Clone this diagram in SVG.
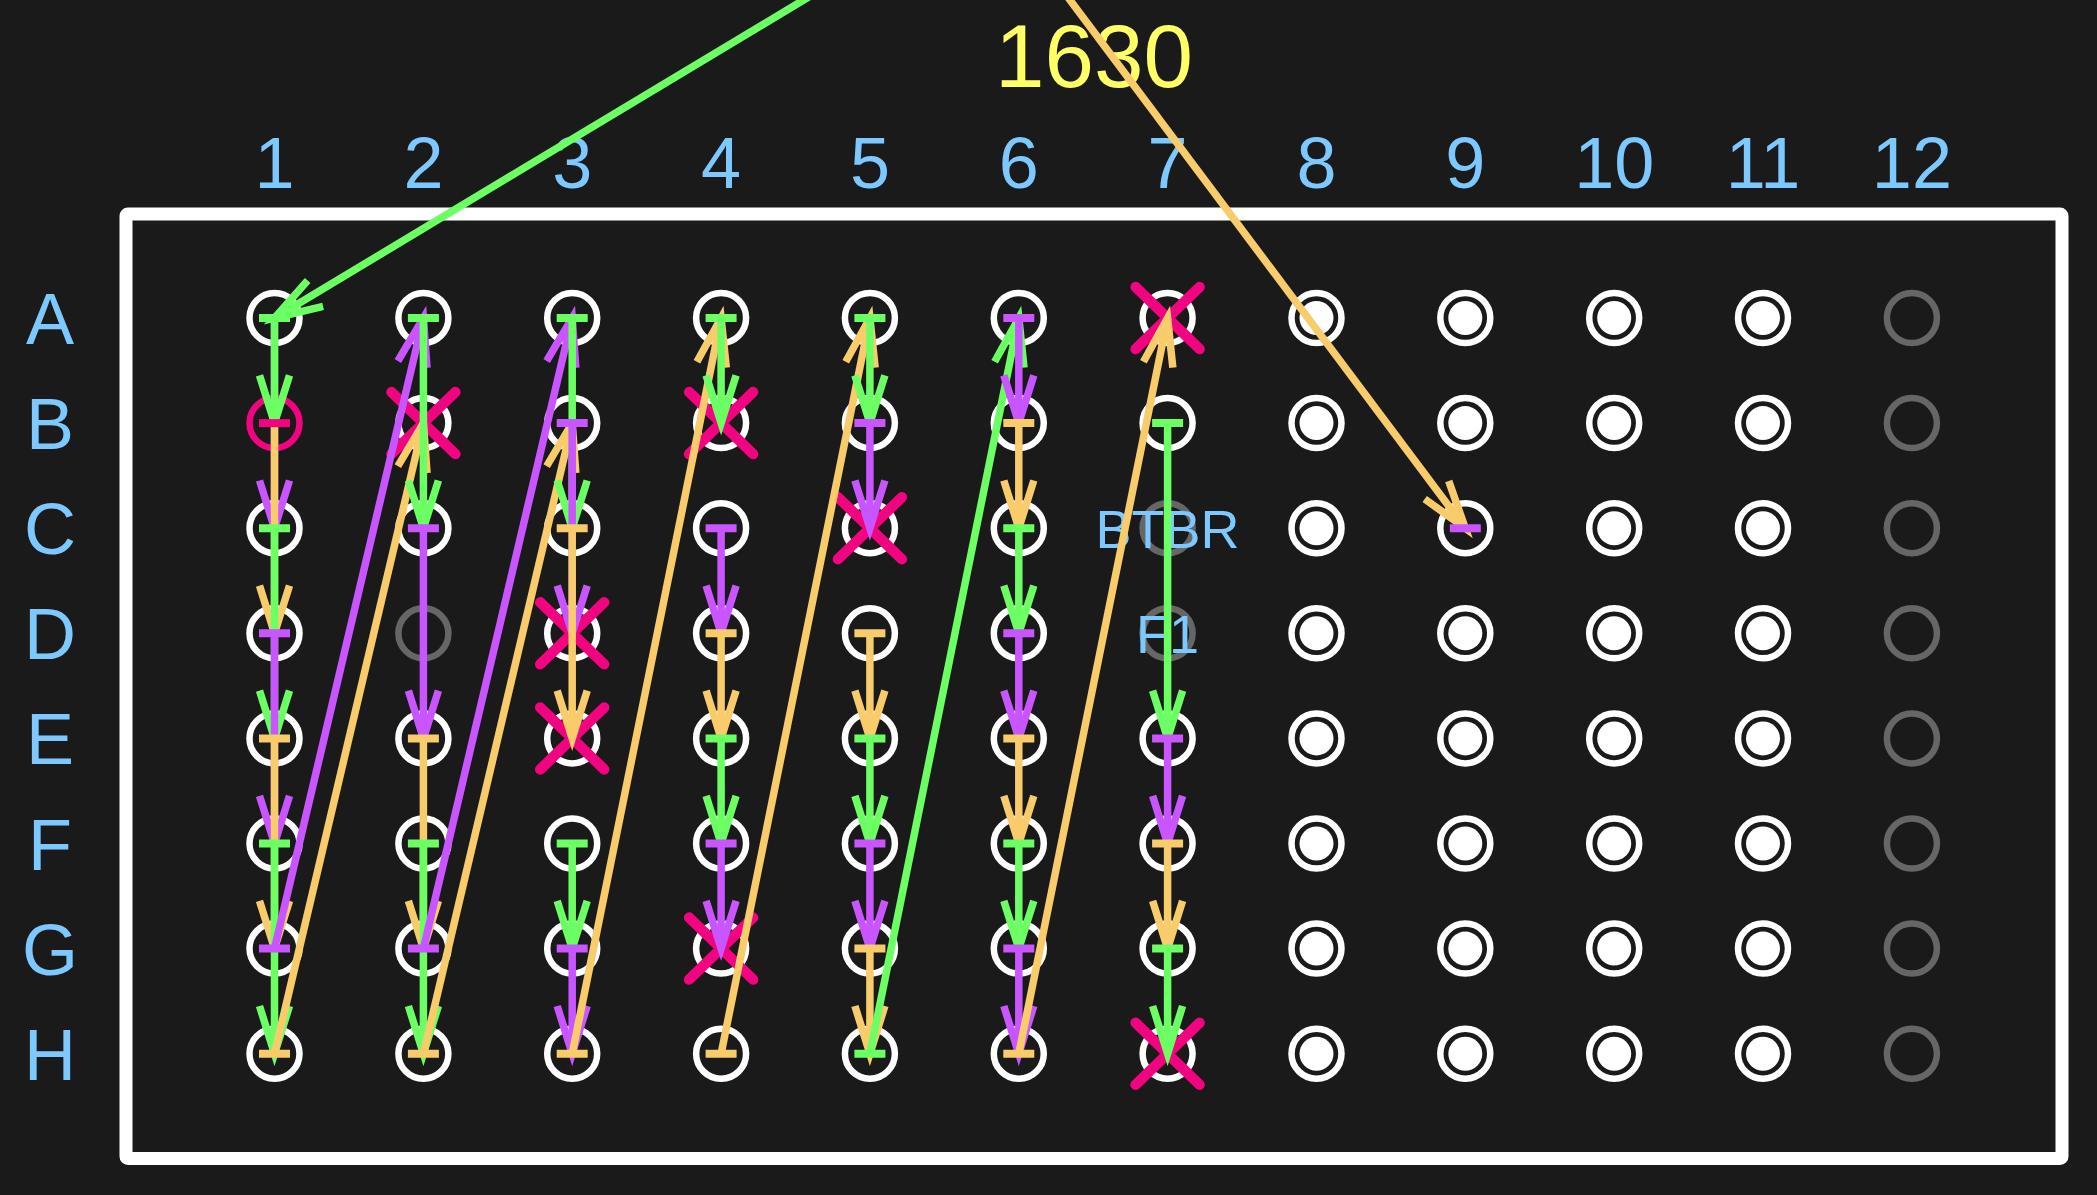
<svg xmlns="http://www.w3.org/2000/svg" xmlns:xlink="http://www.w3.org/1999/xlink" width="2097" height="1195" viewBox="0 0 2097 1195">
<style>
.lbl{font-family:"Liberation Sans",Arial,Helvetica,sans-serif;fill:#7dc8ff;text-anchor:middle;font-size:72px}
.sm{font-size:54px}
.title{font-family:"Liberation Sans",Arial,Helvetica,sans-serif;font-size:89px;fill:#ffff66;text-anchor:middle}
.plate{fill:none;stroke:#ffffff;stroke-width:13}
.w{fill:none;stroke:#ffffff;stroke-width:6.5}
.wg{fill:none;stroke:#666666;stroke-width:6.5}
.wp{fill:none;stroke:#f2037f;stroke-width:6.5}
.dot{fill:#ffffff}
.x{fill:none;stroke:#f2037f;stroke-width:10.5;stroke-linecap:round}
.c{fill:none;stroke-width:7.5}
.t{fill:none;stroke-width:8}
.g{stroke:#6bff63}
.p{stroke:#c855ff}
.o{stroke:#f8cb6b}
.k{stroke:#f2037f}
.g.c{marker-end:url(#ag)}
.p.c{marker-end:url(#ap)}
.o.c{marker-end:url(#ao)}
</style>
<defs>
<marker id="ag" markerUnits="userSpaceOnUse" orient="auto" viewBox="-60 -30 70 60" markerWidth="70" markerHeight="60" refX="0" refY="0" overflow="visible"><path d="M-47.7,-15L0,0L-47.7,15" fill="none" stroke="#6bff63" stroke-width="7.5"/></marker>
<marker id="ap" markerUnits="userSpaceOnUse" orient="auto" viewBox="-60 -30 70 60" markerWidth="70" markerHeight="60" refX="0" refY="0" overflow="visible"><path d="M-47.7,-15L0,0L-47.7,15" fill="none" stroke="#c855ff" stroke-width="7.5"/></marker>
<marker id="ao" markerUnits="userSpaceOnUse" orient="auto" viewBox="-60 -30 70 60" markerWidth="70" markerHeight="60" refX="0" refY="0" overflow="visible"><path d="M-47.7,-15L0,0L-47.7,15" fill="none" stroke="#f8cb6b" stroke-width="7.5"/></marker>
<path id="xm" class="x" d="M-32,-31L32,31M32,-31L-32,31"/>
</defs>
<rect x="0" y="0" width="2097" height="1195" fill="#1a1a1a"/>

<g id="title"><text class="title" x="1094" y="87">1630</text></g>

<g id="column-labels" class="lbl">
<text x="274.5" y="187.5">1</text><text x="423.4" y="187.5">2</text><text x="572.2" y="187.5">3</text><text x="721.1" y="187.5">4</text><text x="869.9" y="187.5">5</text><text x="1018.8" y="187.5">6</text><text x="1167.6" y="187.5">7</text><text x="1316.5" y="187.5">8</text><text x="1465.3" y="187.5">9</text><text x="1614.2" y="187.5">10</text><text x="1763" y="187.5">11</text><text x="1911.9" y="187.5">12</text>
</g>
<g id="row-labels" class="lbl">
<text x="50" y="344">A</text><text x="50" y="449.1">B</text><text x="50" y="554.2">C</text><text x="50" y="659.3">D</text><text x="50" y="764.4">E</text><text x="50" y="869.5">F</text><text x="50" y="974.6">G</text><text x="50" y="1079.7">H</text>
</g>

<g id="plate"><rect class="plate" x="126" y="214" width="1936" height="944.5" rx="2"/></g>

<g id="wells">
<g id="A1"><circle class="w" cx="274.5" cy="318" r="25"/></g>
<g id="B1"><circle class="wp" cx="274.5" cy="423.1" r="25"/></g>
<g id="C1"><circle class="w" cx="274.5" cy="528.2" r="25"/></g>
<g id="D1"><circle class="w" cx="274.5" cy="633.3" r="25"/></g>
<g id="E1"><circle class="w" cx="274.5" cy="738.4" r="25"/></g>
<g id="F1"><circle class="w" cx="274.5" cy="843.5" r="25"/></g>
<g id="G1"><circle class="w" cx="274.5" cy="948.6" r="25"/></g>
<g id="H1"><circle class="w" cx="274.5" cy="1053.7" r="25"/></g>

<g id="A2"><circle class="w" cx="423.4" cy="318" r="25"/></g>
<g id="B2"><circle class="w" cx="423.4" cy="423.1" r="25"/><use xlink:href="#xm" x="423.4" y="423.1"/></g>
<g id="C2"><circle class="w" cx="423.4" cy="528.2" r="25"/></g>
<g id="D2"><circle class="wg" cx="423.4" cy="633.3" r="25"/></g>
<g id="E2"><circle class="w" cx="423.4" cy="738.4" r="25"/></g>
<g id="F2"><circle class="w" cx="423.4" cy="843.5" r="25"/></g>
<g id="G2"><circle class="w" cx="423.4" cy="948.6" r="25"/></g>
<g id="H2"><circle class="w" cx="423.4" cy="1053.7" r="25"/></g>

<g id="A3"><circle class="w" cx="572.2" cy="318" r="25"/></g>
<g id="B3"><circle class="w" cx="572.2" cy="423.1" r="25"/></g>
<g id="C3"><circle class="w" cx="572.2" cy="528.2" r="25"/></g>
<g id="D3"><circle class="w" cx="572.2" cy="633.3" r="25"/><use xlink:href="#xm" x="572.2" y="633.3"/></g>
<g id="E3"><circle class="w" cx="572.2" cy="738.4" r="25"/><use xlink:href="#xm" x="572.2" y="738.4"/></g>
<g id="F3"><circle class="w" cx="572.2" cy="843.5" r="25"/></g>
<g id="G3"><circle class="w" cx="572.2" cy="948.6" r="25"/></g>
<g id="H3"><circle class="w" cx="572.2" cy="1053.7" r="25"/></g>

<g id="A4"><circle class="w" cx="721.1" cy="318" r="25"/></g>
<g id="B4"><circle class="w" cx="721.1" cy="423.1" r="25"/><use xlink:href="#xm" x="721.1" y="423.1"/></g>
<g id="C4"><circle class="w" cx="721.1" cy="528.2" r="25"/></g>
<g id="D4"><circle class="w" cx="721.1" cy="633.3" r="25"/></g>
<g id="E4"><circle class="w" cx="721.1" cy="738.4" r="25"/></g>
<g id="F4"><circle class="w" cx="721.1" cy="843.5" r="25"/></g>
<g id="G4"><circle class="w" cx="721.1" cy="948.6" r="25"/><use xlink:href="#xm" x="721.1" y="948.6"/></g>
<g id="H4"><circle class="w" cx="721.1" cy="1053.7" r="25"/></g>

<g id="A5"><circle class="w" cx="869.9" cy="318" r="25"/></g>
<g id="B5"><circle class="w" cx="869.9" cy="423.1" r="25"/></g>
<g id="C5"><circle class="w" cx="869.9" cy="528.2" r="25"/><use xlink:href="#xm" x="869.9" y="528.2"/></g>
<g id="D5"><circle class="w" cx="869.9" cy="633.3" r="25"/></g>
<g id="E5"><circle class="w" cx="869.9" cy="738.4" r="25"/></g>
<g id="F5"><circle class="w" cx="869.9" cy="843.5" r="25"/></g>
<g id="G5"><circle class="w" cx="869.9" cy="948.6" r="25"/></g>
<g id="H5"><circle class="w" cx="869.9" cy="1053.7" r="25"/></g>

<g id="A6"><circle class="w" cx="1018.8" cy="318" r="25"/></g>
<g id="B6"><circle class="w" cx="1018.8" cy="423.1" r="25"/></g>
<g id="C6"><circle class="w" cx="1018.8" cy="528.2" r="25"/></g>
<g id="D6"><circle class="w" cx="1018.8" cy="633.3" r="25"/></g>
<g id="E6"><circle class="w" cx="1018.8" cy="738.4" r="25"/></g>
<g id="F6"><circle class="w" cx="1018.8" cy="843.5" r="25"/></g>
<g id="G6"><circle class="w" cx="1018.8" cy="948.6" r="25"/></g>
<g id="H6"><circle class="w" cx="1018.8" cy="1053.7" r="25"/></g>

<g id="A7"><circle class="w" cx="1167.6" cy="318" r="25"/><use xlink:href="#xm" x="1167.6" y="318"/></g>
<g id="B7"><circle class="w" cx="1167.6" cy="423.1" r="25"/></g>
<g id="C7"><circle class="wg" cx="1167.6" cy="528.2" r="25"/><text class="lbl sm" x="1167.6" y="547.5">BTBR</text></g>
<g id="D7"><circle class="wg" cx="1167.6" cy="633.3" r="25"/><text class="lbl sm" x="1167.6" y="652.6">F1</text></g>
<g id="E7"><circle class="w" cx="1167.6" cy="738.4" r="25"/></g>
<g id="F7"><circle class="w" cx="1167.6" cy="843.5" r="25"/></g>
<g id="G7"><circle class="w" cx="1167.6" cy="948.6" r="25"/></g>
<g id="H7"><circle class="w" cx="1167.6" cy="1053.7" r="25"/><use xlink:href="#xm" x="1167.6" y="1053.7"/></g>

<g id="A8"><circle class="w" cx="1316.5" cy="318" r="25"/><circle class="dot" cx="1316.5" cy="318" r="17"/></g>
<g id="B8"><circle class="w" cx="1316.5" cy="423.1" r="25"/><circle class="dot" cx="1316.5" cy="423.1" r="17"/></g>
<g id="C8"><circle class="w" cx="1316.5" cy="528.2" r="25"/><circle class="dot" cx="1316.5" cy="528.2" r="17"/></g>
<g id="D8"><circle class="w" cx="1316.5" cy="633.3" r="25"/><circle class="dot" cx="1316.5" cy="633.3" r="17"/></g>
<g id="E8"><circle class="w" cx="1316.5" cy="738.4" r="25"/><circle class="dot" cx="1316.5" cy="738.4" r="17"/></g>
<g id="F8"><circle class="w" cx="1316.5" cy="843.5" r="25"/><circle class="dot" cx="1316.5" cy="843.5" r="17"/></g>
<g id="G8"><circle class="w" cx="1316.5" cy="948.6" r="25"/><circle class="dot" cx="1316.5" cy="948.6" r="17"/></g>
<g id="H8"><circle class="w" cx="1316.5" cy="1053.7" r="25"/><circle class="dot" cx="1316.5" cy="1053.7" r="17"/></g>

<g id="A9"><circle class="w" cx="1465.3" cy="318" r="25"/><circle class="dot" cx="1465.3" cy="318" r="17"/></g>
<g id="B9"><circle class="w" cx="1465.3" cy="423.1" r="25"/><circle class="dot" cx="1465.3" cy="423.1" r="17"/></g>
<g id="C9"><circle class="w" cx="1465.3" cy="528.2" r="25"/></g>
<g id="D9"><circle class="w" cx="1465.3" cy="633.3" r="25"/><circle class="dot" cx="1465.3" cy="633.3" r="17"/></g>
<g id="E9"><circle class="w" cx="1465.3" cy="738.4" r="25"/><circle class="dot" cx="1465.3" cy="738.4" r="17"/></g>
<g id="F9"><circle class="w" cx="1465.3" cy="843.5" r="25"/><circle class="dot" cx="1465.3" cy="843.5" r="17"/></g>
<g id="G9"><circle class="w" cx="1465.3" cy="948.6" r="25"/><circle class="dot" cx="1465.3" cy="948.6" r="17"/></g>
<g id="H9"><circle class="w" cx="1465.3" cy="1053.7" r="25"/><circle class="dot" cx="1465.3" cy="1053.7" r="17"/></g>

<g id="A10"><circle class="w" cx="1614.2" cy="318" r="25"/><circle class="dot" cx="1614.2" cy="318" r="17"/></g>
<g id="B10"><circle class="w" cx="1614.2" cy="423.1" r="25"/><circle class="dot" cx="1614.2" cy="423.1" r="17"/></g>
<g id="C10"><circle class="w" cx="1614.2" cy="528.2" r="25"/><circle class="dot" cx="1614.2" cy="528.2" r="17"/></g>
<g id="D10"><circle class="w" cx="1614.2" cy="633.3" r="25"/><circle class="dot" cx="1614.2" cy="633.3" r="17"/></g>
<g id="E10"><circle class="w" cx="1614.2" cy="738.4" r="25"/><circle class="dot" cx="1614.2" cy="738.4" r="17"/></g>
<g id="F10"><circle class="w" cx="1614.2" cy="843.5" r="25"/><circle class="dot" cx="1614.2" cy="843.5" r="17"/></g>
<g id="G10"><circle class="w" cx="1614.2" cy="948.6" r="25"/><circle class="dot" cx="1614.2" cy="948.6" r="17"/></g>
<g id="H10"><circle class="w" cx="1614.2" cy="1053.7" r="25"/><circle class="dot" cx="1614.2" cy="1053.7" r="17"/></g>

<g id="A11"><circle class="w" cx="1763" cy="318" r="25"/><circle class="dot" cx="1763" cy="318" r="17"/></g>
<g id="B11"><circle class="w" cx="1763" cy="423.1" r="25"/><circle class="dot" cx="1763" cy="423.1" r="17"/></g>
<g id="C11"><circle class="w" cx="1763" cy="528.2" r="25"/><circle class="dot" cx="1763" cy="528.2" r="17"/></g>
<g id="D11"><circle class="w" cx="1763" cy="633.3" r="25"/><circle class="dot" cx="1763" cy="633.3" r="17"/></g>
<g id="E11"><circle class="w" cx="1763" cy="738.4" r="25"/><circle class="dot" cx="1763" cy="738.4" r="17"/></g>
<g id="F11"><circle class="w" cx="1763" cy="843.5" r="25"/><circle class="dot" cx="1763" cy="843.5" r="17"/></g>
<g id="G11"><circle class="w" cx="1763" cy="948.6" r="25"/><circle class="dot" cx="1763" cy="948.6" r="17"/></g>
<g id="H11"><circle class="w" cx="1763" cy="1053.7" r="25"/><circle class="dot" cx="1763" cy="1053.7" r="17"/></g>

<g id="A12"><circle class="wg" cx="1911.9" cy="318" r="25"/></g>
<g id="B12"><circle class="wg" cx="1911.9" cy="423.1" r="25"/></g>
<g id="C12"><circle class="wg" cx="1911.9" cy="528.2" r="25"/></g>
<g id="D12"><circle class="wg" cx="1911.9" cy="633.3" r="25"/></g>
<g id="E12"><circle class="wg" cx="1911.9" cy="738.4" r="25"/></g>
<g id="F12"><circle class="wg" cx="1911.9" cy="843.5" r="25"/></g>
<g id="G12"><circle class="wg" cx="1911.9" cy="948.6" r="25"/></g>
<g id="H12"><circle class="wg" cx="1911.9" cy="1053.7" r="25"/></g>
</g>

<g id="connectors">
<line class="c p" x1="274.5" y1="318" x2="274.5" y2="528.2"/>
<line class="c g" x1="837" y1="-20" x2="274.5" y2="318"/>
<line class="c g" x1="274.5" y1="318" x2="274.5" y2="423.1"/>
<line class="c o" x1="274.5" y1="423.1" x2="274.5" y2="633.3"/>
<line class="c g" x1="274.5" y1="528.2" x2="274.5" y2="738.4"/>
<line class="c p" x1="274.5" y1="633.3" x2="274.5" y2="843.5"/>
<line class="c o" x1="274.5" y1="738.4" x2="274.5" y2="948.6"/>
<line class="c g" x1="274.5" y1="843.5" x2="274.5" y2="1053.7"/>
<line class="c p" x1="274.5" y1="948.6" x2="423.4" y2="318"/>
<line class="c o" x1="274.5" y1="1053.7" x2="423.4" y2="423.1"/>
<line class="c g" x1="423.4" y1="318" x2="423.4" y2="528.2"/>
<line class="c p" x1="423.4" y1="528.2" x2="423.4" y2="738.4"/>
<line class="c o" x1="423.4" y1="738.4" x2="423.4" y2="948.6"/>
<line class="c g" x1="423.4" y1="843.5" x2="423.4" y2="1053.7"/>
<line class="c p" x1="423.4" y1="948.6" x2="572.2" y2="318"/>
<line class="c o" x1="423.4" y1="1053.7" x2="572.2" y2="423.1"/>
<line class="c g" x1="572.2" y1="318" x2="572.2" y2="528.2"/>
<line class="c p" x1="572.2" y1="423.1" x2="572.2" y2="633.3"/>
<line class="c o" x1="572.2" y1="528.2" x2="572.2" y2="738.4"/>
<line class="c g" x1="572.2" y1="843.5" x2="572.2" y2="948.6"/>
<line class="c p" x1="572.2" y1="948.6" x2="572.2" y2="1053.7"/>
<line class="c o" x1="572.2" y1="1053.7" x2="721.1" y2="318"/>
<line class="c g" x1="721.1" y1="318" x2="721.1" y2="423.1"/>
<line class="c p" x1="721.1" y1="528.2" x2="721.1" y2="633.3"/>
<line class="c o" x1="721.1" y1="633.3" x2="721.1" y2="738.4"/>
<line class="c g" x1="721.1" y1="738.4" x2="721.1" y2="843.5"/>
<line class="c p" x1="721.1" y1="843.5" x2="721.1" y2="948.6"/>
<line class="c o" x1="721.1" y1="1053.7" x2="869.9" y2="318"/>
<line class="c g" x1="869.9" y1="318" x2="869.9" y2="423.1"/>
<line class="c p" x1="869.9" y1="423.1" x2="869.9" y2="528.2"/>
<line class="c o" x1="869.9" y1="633.3" x2="869.9" y2="738.4"/>
<line class="c g" x1="869.9" y1="738.4" x2="869.9" y2="843.5"/>
<line class="c p" x1="869.9" y1="843.5" x2="869.9" y2="948.6"/>
<line class="c o" x1="869.9" y1="948.6" x2="869.9" y2="1053.7"/>
<line class="c g" x1="869.9" y1="1053.7" x2="1018.8" y2="318"/>
<line class="c p" x1="1018.8" y1="318" x2="1018.8" y2="423.1"/>
<line class="c o" x1="1018.8" y1="423.1" x2="1018.8" y2="528.2"/>
<line class="c g" x1="1018.8" y1="528.2" x2="1018.8" y2="633.3"/>
<line class="c p" x1="1018.8" y1="633.3" x2="1018.8" y2="738.4"/>
<line class="c o" x1="1018.8" y1="738.4" x2="1018.8" y2="843.5"/>
<line class="c g" x1="1018.8" y1="843.5" x2="1018.8" y2="948.6"/>
<line class="c p" x1="1018.8" y1="948.6" x2="1018.8" y2="1053.7"/>
<line class="c o" x1="1018.8" y1="1053.7" x2="1167.6" y2="318"/>
<line class="c g" x1="1167.6" y1="423.1" x2="1167.6" y2="738.4"/>
<line class="c p" x1="1167.6" y1="738.4" x2="1167.6" y2="843.5"/>
<line class="c o" x1="1167.6" y1="843.5" x2="1167.6" y2="948.6"/>
<line class="c g" x1="1167.6" y1="948.6" x2="1167.6" y2="1053.7"/>
<line class="c o" x1="1055" y1="-20" x2="1465.3" y2="528.2"/>
<g id="ticks">
<path class="t g" d="M259,318h31M259,528.2h31M259,843.5h31M407.9,318h31M407.9,843.5h31M556.7,318h31M556.7,843.5h31M705.6,318h31M705.6,738.4h31M854.4,318h31M854.4,738.4h31M854.4,1053.7h31M1003.3,528.2h31M1003.3,843.5h31M1152.1,423.1h31M1152.1,948.6h31"/>
<path class="t p" d="M259,633.3h31M259,948.6h31M407.9,528.2h31M407.9,948.6h31M556.7,423.1h31M556.7,948.6h31M705.6,528.2h31M705.6,843.5h31M854.4,423.1h31M854.4,843.5h31M1003.3,318h31M1003.3,633.3h31M1003.3,948.6h31M1152.1,738.4h31M1449.8,528.2h31"/>
<path class="t o" d="M259,738.4h31M259,1053.7h31M407.9,738.4h31M407.9,1053.7h31M556.7,528.2h31M556.7,1053.7h31M705.6,633.3h31M705.6,1053.7h31M854.4,633.3h31M854.4,948.6h31M1003.3,423.1h31M1003.3,738.4h31M1003.3,1053.7h31M1152.1,843.5h31"/>
<path class="t k" d="M259,423.1h31"/>
</g>
</g>
</svg>
